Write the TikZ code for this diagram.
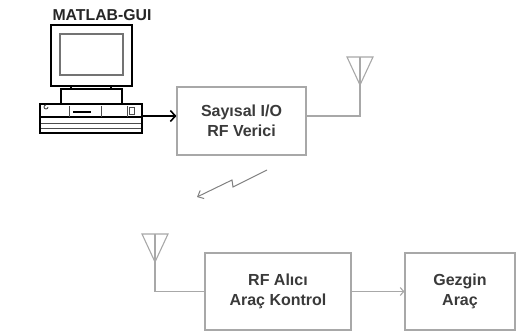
\documentclass[tikz,border=0pt]{standalone}
\usepackage{fontspec}
\setmainfont{Liberation Sans}
\usetikzlibrary{arrows.meta,calc}
\definecolor{boxgray}{HTML}{A8A8A8}
\definecolor{textgray}{HTML}{3A3A3A}
\begin{document}
\begin{tikzpicture}[x=1pt,y=-1pt,
  blockbox/.style={draw=boxgray,line width=1.1pt,fill=white,align=center,
    font=\fontsize{16}{19.5}\selectfont\bfseries,text=textgray,inner sep=0pt},
  wire/.style={draw=boxgray,line width=1.1pt},
  pcline/.style={draw=black,line width=1.8pt},
  pcthin/.style={draw=black!70,line width=0.9pt},
  antenna/.pic={
    \draw[wire,line join=miter] (-13,-28) -- (13,-28) -- (0,0) -- cycle;
    \draw[wire] (0,-28) -- (0,0);
  }]
\useasboundingbox (0,0) rectangle (520,334);

% --- computer ---
\node[font=\fontsize{15.8}{18}\selectfont\bfseries,text=black!85] (gui) at (102,15) {MATLAB-GUI};
\draw[pcline] (51,25) rectangle (132,86);
\draw[draw=black!55,line width=1.2pt] (60,34) rectangle (123,75);
\draw[pcline] (71,86) -- (71,89) (111,86) -- (111,89);
\draw[pcline] (61,104) -- (61,89) -- (122,89) -- (122,104);
\draw[pcline] (40,104) rectangle (142,133);
\draw[draw=black,line width=1.4pt] (41,117) -- (141,117);
\draw[pcthin] (41,123) -- (141,123) (41,128) -- (141,128);
\draw[pcthin] (48,107) arc[start angle=0,end angle=270,radius=2];
\draw[pcthin] (69,106) -- (69,117) (101,106) -- (101,117) (127,106) -- (127,117);
\draw[draw=black,line width=2.2pt] (73,112) -- (91,112);
\draw[pcthin] (129,107) rectangle (134,114);
\coordinate (pcport) at (142,116);

% --- blocks ---
\node[blockbox,minimum width=129pt,minimum height=68pt] (tx) at (241.5,121) {Sayısal I/O\\RF Verici};
\node[blockbox,minimum width=146pt,minimum height=77pt] (rx) at (278,291.5) {RF Alıcı\\Araç Kontrol};
\node[blockbox,minimum width=110pt,minimum height=77pt] (car) at (460,291.5) {Gezgin\\Araç};

% --- antennas ---
\coordinate (ant1) at (360,85);
\coordinate (ant2) at (155,262);
\pic at (ant1) {antenna};
\pic at (ant2) {antenna};

% --- connections ---
\draw[draw=black,line width=1.6pt,-{Straight Barb[length=5pt,width=11pt,line width=1.6pt]}]
  (pcport) -- (pcport -| tx.west);
\coordinate (txout) at ($(tx.east)+(0,-5)$);
\draw[wire] (txout) -| (ant1);
\draw[wire] (ant2) |- (rx.west);
\draw[wire,-{Straight Barb[length=3.5pt,width=8pt]}] (rx.east) -- (car.west);

% --- radio link ---
\coordinate (z1) at (267,170);
\coordinate (z2) at (233,187);
\coordinate (z3) at (232,180);
\coordinate (z4) at (197,197);
\draw[draw=black!50,line width=1pt,-{Straight Barb[length=5pt,width=9pt]}]
  (z1) -- (z2) -- (z3) -- (z4);
\end{tikzpicture}
\end{document}
